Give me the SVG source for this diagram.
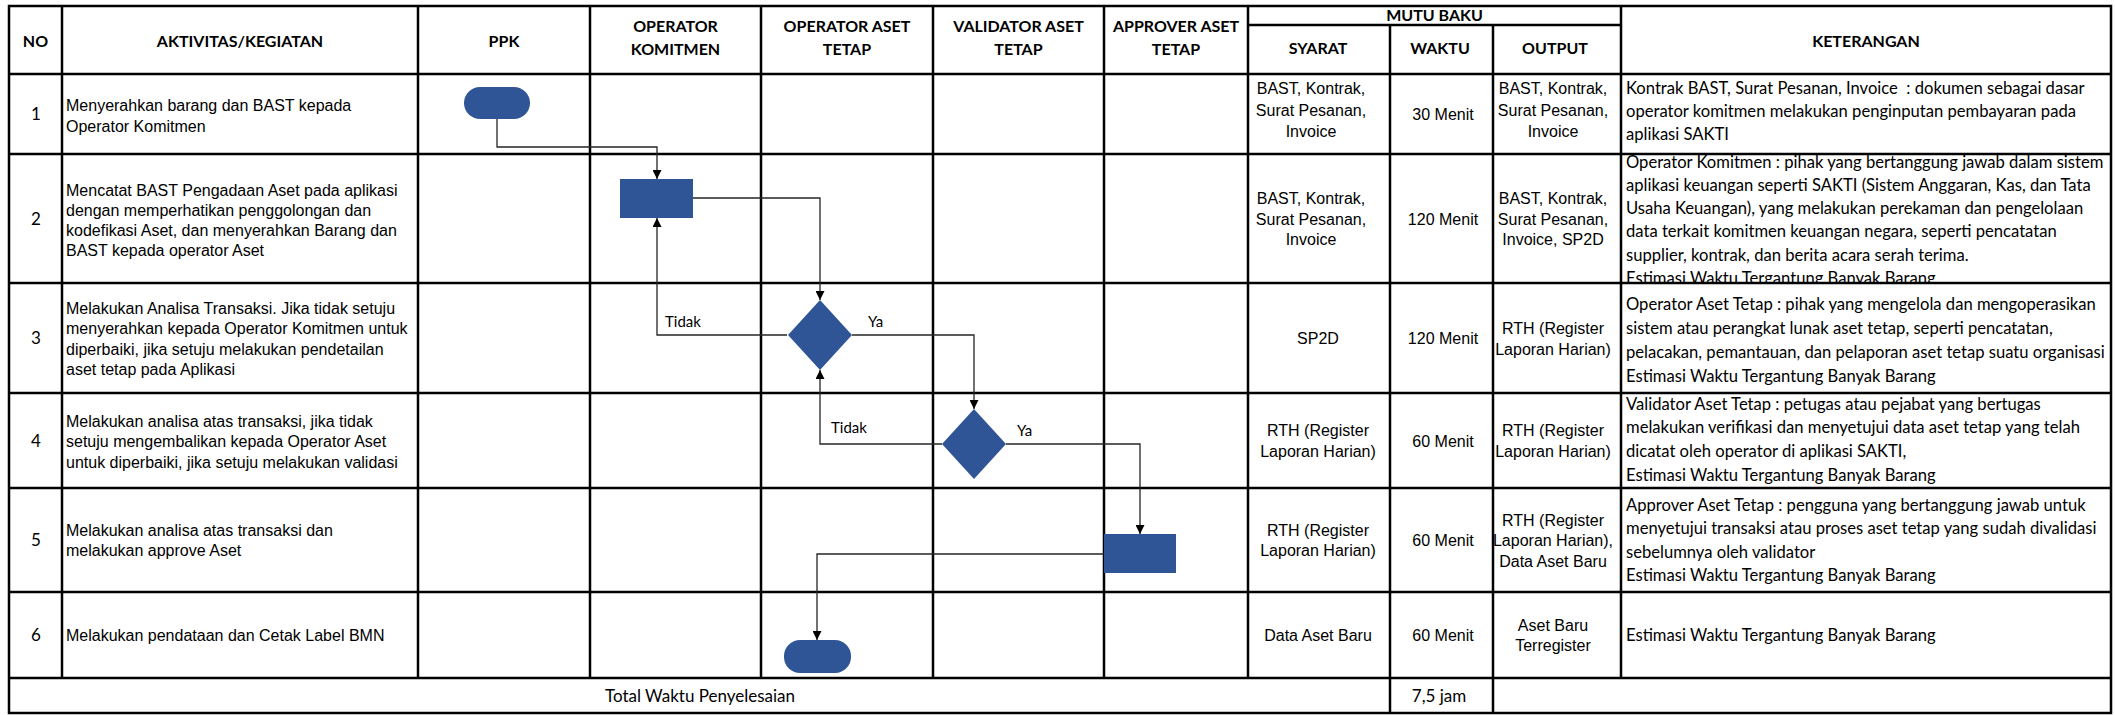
<svg xmlns="http://www.w3.org/2000/svg" width="2115" height="715" viewBox="0 0 2115 715">
<style>
.grid{stroke:#000;stroke-width:2.5;fill:none}
.ar{font-family:"Liberation Sans",Arial,sans-serif;font-size:16px;fill:#000}
.cal{font-family:Lato,"Liberation Sans",sans-serif;font-size:17px;fill:#000}
.ket{font-family:Lato,"Liberation Sans",sans-serif;font-size:16.6px;fill:#000}
.hd{font-family:Lato,"Liberation Sans",sans-serif;font-size:16px;font-weight:bold;fill:#000}
.lbl{font-family:Lato,"Liberation Sans",sans-serif;font-size:15px;fill:#000}
.c{text-anchor:middle}
.shape{fill:#2F5597}
.con{stroke:#262626;stroke-width:1.3;fill:none}
</style>
<defs>
<marker id="ah" viewBox="0 0 10 10" refX="10" refY="5" markerWidth="9" markerHeight="9" markerUnits="userSpaceOnUse" orient="auto">
<path d="M0,0 L10,5 L0,10 z" fill="#000"/>
</marker>
<clipPath id="clipK2"><rect x="1622" y="155" width="489" height="127"/></clipPath>
</defs>
<rect x="0" y="0" width="2115" height="715" fill="#fff"/>

<g id="table">
<rect class="grid" x="9" y="6" width="2102" height="707"/>
<path class="grid" d="M9,74H2111 M9,154H2111 M9,283H2111 M9,393H2111 M9,488H2111 M9,592H2111 M9,678H2111 M1248,25H1621"/>
<path class="grid" d="M62,6V678 M418,6V678 M590,6V678 M761,6V678 M933,6V678 M1104,6V678 M1248,6V678 M1390,25V713 M1493,25V713 M1621,6V678"/>
</g>

<g id="header">
<text class="hd c" x="35.5" y="47">NO</text>
<text class="hd c" x="240" y="47">AKTIVITAS/KEGIATAN</text>
<text class="hd c" x="504" y="47">PPK</text>
<text class="hd c" x="675.5" y="32">OPERATOR<tspan x="675.5" y="55">KOMITMEN</tspan></text>
<text class="hd c" x="847" y="32">OPERATOR ASET<tspan x="847" y="55">TETAP</tspan></text>
<text class="hd c" x="1018.5" y="32">VALIDATOR ASET<tspan x="1018.5" y="55">TETAP</tspan></text>
<text class="hd c" x="1176" y="32">APPROVER ASET<tspan x="1176" y="55">TETAP</tspan></text>
<text class="hd c" x="1434.5" y="21">MUTU BAKU</text>
<text class="hd c" x="1318" y="54">SYARAT</text>
<text class="hd c" x="1440" y="54">WAKTU</text>
<text class="hd c" x="1555" y="54">OUTPUT</text>
<text class="hd c" x="1866" y="47">KETERANGAN</text>
</g>

<g id="row1">
<text class="cal c" x="36" y="120">1</text>
<text class="ar" x="66" y="111">Menyerahkan barang dan BAST kepada<tspan x="66" y="131.5">Operator Komitmen</tspan></text>
<text class="ar c" x="1311" y="94">BAST, Kontrak,<tspan x="1311" y="115.5">Surat Pesanan,</tspan><tspan x="1311" y="137">Invoice</tspan></text>
<text class="ar c" x="1443" y="120">30 Menit</text>
<text class="ar c" x="1553" y="94">BAST, Kontrak,<tspan x="1553" y="115.5">Surat Pesanan,</tspan><tspan x="1553" y="137">Invoice</tspan></text>
<text class="ket" x="1626" y="94" xml:space="preserve">Kontrak BAST, Surat Pesanan, Invoice  : dokumen sebagai dasar<tspan x="1626" y="117">operator komitmen melakukan penginputan pembayaran pada</tspan><tspan x="1626" y="139.5">aplikasi SAKTI</tspan></text>
</g>

<g id="row2">
<text class="cal c" x="36" y="224.5">2</text>
<text class="ar" x="66" y="196">Mencatat BAST Pengadaan Aset pada aplikasi<tspan x="66" y="216">dengan memperhatikan penggolongan dan</tspan><tspan x="66" y="236">kodefikasi Aset, dan menyerahkan Barang dan</tspan><tspan x="66" y="256">BAST kepada operator Aset</tspan></text>
<text class="ar c" x="1311" y="204">BAST, Kontrak,<tspan x="1311" y="224.5">Surat Pesanan,</tspan><tspan x="1311" y="245">Invoice</tspan></text>
<text class="ar c" x="1443" y="224.5">120 Menit</text>
<text class="ar c" x="1553" y="204">BAST, Kontrak,<tspan x="1553" y="224.5">Surat Pesanan,</tspan><tspan x="1553" y="245">Invoice, SP2D</tspan></text>
<g clip-path="url(#clipK2)">
<text class="ket" x="1626" y="167.5">Operator Komitmen : pihak yang bertanggung jawab dalam sistem<tspan x="1626" y="190.8">aplikasi keuangan seperti SAKTI (Sistem Anggaran, Kas, dan Tata</tspan><tspan x="1626" y="214.1">Usaha Keuangan), yang melakukan perekaman dan pengelolaan</tspan><tspan x="1626" y="237.4">data terkait komitmen keuangan negara, seperti pencatatan</tspan><tspan x="1626" y="260.7">supplier, kontrak, dan berita acara serah terima.</tspan><tspan x="1626" y="284">Estimasi Waktu Tergantung Banyak Barang</tspan></text>
</g>
</g>

<g id="row3">
<text class="cal c" x="36" y="344">3</text>
<text class="ar" x="66" y="313.5">Melakukan Analisa Transaksi. Jika tidak setuju<tspan x="66" y="334">menyerahkan kepada Operator Komitmen untuk</tspan><tspan x="66" y="354.5">diperbaiki, jika setuju melakukan pendetailan</tspan><tspan x="66" y="375">aset tetap pada Aplikasi</tspan></text>
<text class="ar c" x="1318" y="344">SP2D</text>
<text class="ar c" x="1443" y="344">120 Menit</text>
<text class="ar c" x="1553" y="334">RTH (Register<tspan x="1553" y="354.5">Laporan Harian)</tspan></text>
<text class="ket" x="1626" y="309.5">Operator Aset Tetap : pihak yang mengelola dan mengoperasikan<tspan x="1626" y="333.5">sistem atau perangkat lunak aset tetap, seperti pencatatan,</tspan><tspan x="1626" y="357.5">pelacakan, pemantauan, dan pelaporan aset tetap suatu organisasi</tspan><tspan x="1626" y="381.5">Estimasi Waktu Tergantung Banyak Barang</tspan></text>
</g>

<g id="row4">
<text class="cal c" x="36" y="447">4</text>
<text class="ar" x="66" y="426.5">Melakukan analisa atas transaksi, jika tidak<tspan x="66" y="447">setuju mengembalikan kepada Operator Aset</tspan><tspan x="66" y="467.5">untuk diperbaiki, jika setuju melakukan validasi</tspan></text>
<text class="ar c" x="1318" y="436">RTH (Register<tspan x="1318" y="456.5">Laporan Harian)</tspan></text>
<text class="ar c" x="1443" y="446.5">60 Menit</text>
<text class="ar c" x="1553" y="436">RTH (Register<tspan x="1553" y="456.5">Laporan Harian)</tspan></text>
<text class="ket" x="1626" y="409.5">Validator Aset Tetap : petugas atau pejabat yang bertugas<tspan x="1626" y="433.3">melakukan verifikasi dan menyetujui data aset tetap yang telah</tspan><tspan x="1626" y="457.1">dicatat oleh operator di aplikasi SAKTI,</tspan><tspan x="1626" y="481">Estimasi Waktu Tergantung Banyak Barang</tspan></text>
</g>

<g id="row5">
<text class="cal c" x="36" y="546">5</text>
<text class="ar" x="66" y="535.5">Melakukan analisa atas transaksi dan<tspan x="66" y="556">melakukan approve Aset</tspan></text>
<text class="ar c" x="1318" y="535.5">RTH (Register<tspan x="1318" y="556">Laporan Harian)</tspan></text>
<text class="ar c" x="1443" y="546">60 Menit</text>
<text class="ar c" x="1553" y="525.5">RTH (Register<tspan x="1553" y="546">Laporan Harian),</tspan><tspan x="1553" y="566.5">Data Aset Baru</tspan></text>
<text class="ket" x="1626" y="510.5">Approver Aset Tetap : pengguna yang bertanggung jawab untuk<tspan x="1626" y="534">menyetujui transaksi atau proses aset tetap yang sudah divalidasi</tspan><tspan x="1626" y="557.5">sebelumnya oleh validator</tspan><tspan x="1626" y="581">Estimasi Waktu Tergantung Banyak Barang</tspan></text>
</g>

<g id="row6">
<text class="cal c" x="36" y="641">6</text>
<text class="ar" x="66" y="641">Melakukan pendataan dan Cetak Label BMN</text>
<text class="ar c" x="1318" y="641">Data Aset Baru</text>
<text class="ar c" x="1443" y="641">60 Menit</text>
<text class="ar c" x="1553" y="630.5">Aset Baru<tspan x="1553" y="651">Terregister</tspan></text>
<text class="ket" x="1626" y="641">Estimasi Waktu Tergantung Banyak Barang</text>
</g>

<g id="total">
<text class="cal c" x="700" y="701.5">Total Waktu Penyelesaian</text>
<text class="cal c" x="1439" y="701.5">7,5 jam</text>
</g>

<g id="connectors">
<path class="con" d="M497,119V147H657V179" marker-end="url(#ah)"/>
<path class="con" d="M693,198H820V300" marker-end="url(#ah)"/>
<path class="con" d="M787,335H657V218" marker-end="url(#ah)"/>
<path class="con" d="M852,335H974V409" marker-end="url(#ah)"/>
<path class="con" d="M942,444H820V370" marker-end="url(#ah)"/>
<path class="con" d="M1006,444H1140V534" marker-end="url(#ah)"/>
<path class="con" d="M1104,554H817V640" marker-end="url(#ah)"/>
<text class="lbl" x="665" y="327">Tidak</text>
<text class="lbl" x="868" y="327">Ya</text>
<text class="lbl" x="831" y="433">Tidak</text>
<text class="lbl" x="1017" y="436">Ya</text>
</g>

<g id="n1"><rect class="shape" x="464" y="87" width="66" height="32" rx="16" ry="16"/></g>
<g id="n2"><rect class="shape" x="620" y="179" width="73" height="39"/></g>
<g id="n3"><polygon class="shape" points="820,300 852,335 820,370 788,335"/></g>
<g id="n4"><polygon class="shape" points="974,409 1006,444 974,479 942,444"/></g>
<g id="n5"><rect class="shape" x="1104" y="534" width="72" height="39"/></g>
<g id="n6"><rect class="shape" x="784" y="640" width="67" height="33" rx="16" ry="16"/></g>
</svg>
